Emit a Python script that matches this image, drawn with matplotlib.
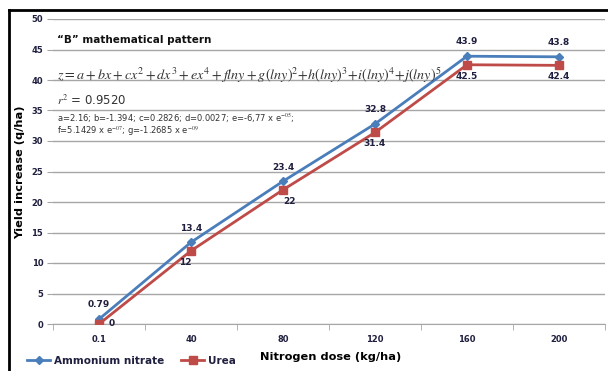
import matplotlib.pyplot as plt
from matplotlib.lines import Line2D

doses = ['0.1', '40', '80', '120', '160', '200']
ammonium = [0.79, 13.4, 23.4, 32.8, 43.9, 43.8]
urea = [0, 12, 22, 31.4, 42.5, 42.4]
amm_labels = ['0.79', '13.4', '23.4', '32.8', '43.9', '43.8']
urea_labels = ['0', '12', '22', '31.4', '42.5', '42.4']

blue = '#4A7EBB'
red = '#BE4B48'
grid_c = '#A6A6A6'
txt_c = '#1F1F3F'

plt.rcParams['mathtext.fontset'] = 'stix'

fig = plt.figure(figsize=(6.08, 3.71), dpi=100)
ax = fig.add_axes([53/608, 1-324/371, 552/608, 305/371])

x = list(range(len(doses)))
ax.plot(x, ammonium, color=blue, lw=2, marker='D', ms=4, label='Ammonium nitrate', zorder=3)
ax.plot(x, urea, color=red, lw=2, marker='s', ms=6, label='Urea', zorder=3)

for i in x:
    ax.annotate(amm_labels[i], (i, ammonium[i]), xytext=(0, 7), textcoords='offset points',
                ha='center', va='bottom', fontsize=6.5, fontweight='bold', color=txt_c)
    dx = 7 if i == 0 else (-4 if i == 1 else (5 if i == 2 else 0))
    dy = 0 if i == 0 else -5
    ax.annotate(urea_labels[i], (i, urea[i]), xytext=(dx, dy), textcoords='offset points',
                ha='left' if i == 0 else 'center', va='center' if i == 0 else 'top',
                fontsize=6.5, fontweight='bold', color=txt_c)

ax.set_xlim(-0.5, 5.5)
ax.set_ylim(0, 50)
ax.set_yticks(range(0, 51, 5))
ax.set_xticks(x)
ax.set_xticklabels(doses)
ax.set_xticks([i + 0.5 for i in range(-1, 6)], minor=True)
ax.tick_params(axis='x', which='major', length=0, pad=8)
ax.tick_params(axis='x', which='minor', length=4, color=grid_c, direction='out')
ax.tick_params(axis='y', length=4, color=grid_c, pad=3)
for lab in ax.get_xticklabels() + ax.get_yticklabels():
    lab.set_fontsize(6)
    lab.set_fontweight('bold')
    lab.set_color(txt_c)
ax.grid(axis='y', color=grid_c, lw=1)
ax.set_axisbelow(True)
for s in ['top', 'right', 'left']:
    ax.spines[s].set_visible(False)
ax.spines['bottom'].set_color(grid_c)

ax.set_xlabel('Nitrogen dose (kg/ha)', fontsize=8.2, fontweight='bold')
ax.xaxis.set_label_coords((331-53)/552, -(352-324)/305)
ax.set_ylabel('Yield increase (q/ha)', fontsize=8.2, fontweight='bold')
ax.yaxis.set_label_coords((25-53)/552, (324-172)/305)

ax.text(57/608, 1-40/371, '\u201cB\u201d mathematical pattern', transform=fig.transFigure,
        fontsize=7.5, fontweight='bold', va='center', color='#111111')
ax.text(57/608, 1-75/371,
        r'$z = a + bx + cx^2 + dx^3 + ex^4 + flny + g(lny)^2\!+\!h(lny)^3\!+\!i(lny)^4\!+\!j(lny)^5$',
        transform=fig.transFigure, fontsize=10.2, va='center', color='#333333')
ax.text(57/608, 1-101/371, r'$r^2$ = 0.9520', transform=fig.transFigure,
        fontsize=8.5, va='center', color='#333333')
ax.text(57/608, 1-118/371, r'a=2.16; b=-1.394; c=0.2826; d=0.0027; e=-6,77 x e$^{-05}$;',
        transform=fig.transFigure, fontsize=6, va='center', color='#333333')
ax.text(57/608, 1-131/371, r'f=5.1429 x e$^{-07}$; g=-1.2685 x e$^{-09}$',
        transform=fig.transFigure, fontsize=6, va='center', color='#333333')

leg = fig.legend(loc='center left', bbox_to_anchor=(22/608, 1-361/371), ncol=2, frameon=False,
                 prop={'size': 7.5, 'weight': 'bold'}, handlelength=2.2, handletextpad=0.4,
                 columnspacing=1.6, borderpad=0)
for t in leg.get_texts():
    t.set_color(txt_c)

# outer frame (top and left)
fig.add_artist(Line2D([9/608, 1], [1-10/371, 1-10/371], color='black', lw=2, transform=fig.transFigure))
fig.add_artist(Line2D([9/608, 9/608], [0, 1-10/371], color='black', lw=2, transform=fig.transFigure))

fig.savefig('out.png', dpi=100)
